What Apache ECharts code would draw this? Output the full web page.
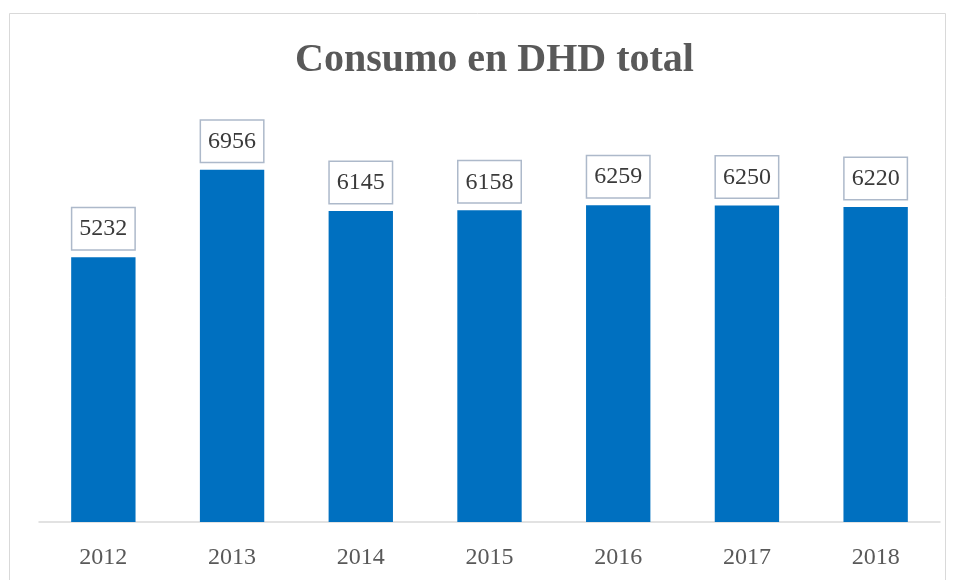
<!DOCTYPE html>
<html>
<head>
<meta charset="utf-8">
<script src="https://cdn.jsdelivr.net/npm/echarts@6/dist/echarts.min.js"></script>
<style>
  html, body { margin: 0; padding: 0; background: #fff; }
  #chart { width: 956px; height: 580px; }
</style>
</head>
<body>
<div id="chart"></div>
<script>
const years = ['2012', '2013', '2014', '2015', '2016', '2017', '2018']
const consumo = [5232, 6956, 6145, 6158, 6259, 6250, 6220]

const chart = echarts.init(document.getElementById('chart'))

const serif = '"Liberation Serif", "DejaVu Serif", serif'

const option = {
  backgroundColor: '#fff',
  animation: false,
  graphic: [
    {
      type: 'rect',
      shape: { x: 9.5, y: 13.5, width: 936, height: 600 },
      style: { fill: 'none', stroke: '#d9d9d9', lineWidth: 1 },
      silent: true,
    },
  ],
  title: {
    text: 'Consumo en DHD total',
    left: 290,
    top: 36,
    textStyle: {
      fontFamily: serif,
      fontWeight: 'bold',
      fontSize: 40,
      color: '#595959',
    },
  },
  grid: {
    left: 39,
    right: 16,
    top: 117,
    bottom: 58,
  },
  xAxis: {
    type: 'category',
    data: years,
    axisLine: { lineStyle: { color: '#d9d9d9', width: 1.5 } },
    axisTick: { show: false },
    axisLabel: {
      fontFamily: serif,
      fontSize: 24,
      color: '#595959',
      margin: 24,
    },
  },
  yAxis: {
    type: 'value',
    min: 0,
    max: 8000,
    show: false,
    splitLine: { show: false },
  },
  series: [
    {
      type: 'bar',
      data: consumo,
      barWidth: '50%',
      itemStyle: { color: '#0070c0' },
      label: {
        show: true,
        position: 'top',
        distance: 8,
        fontFamily: serif,
        fontSize: 24,
        color: '#3a3a3a',
        backgroundColor: '#fff',
        borderColor: '#adb9ca',
        borderWidth: 1.5,
        padding: [8, 7, 7, 7],
        lineHeight: 26,
      },
    },
  ],
}

chart.setOption(option)
</script>
</body>
</html>
